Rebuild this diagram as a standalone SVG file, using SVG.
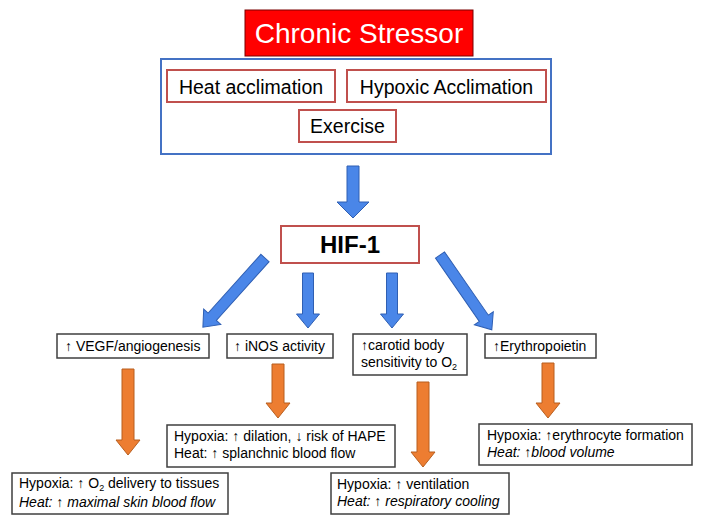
<svg xmlns="http://www.w3.org/2000/svg" width="703" height="525" viewBox="0 0 703 525">
<style>
  .bg{fill:#ffffff}
  .title{fill:#ff0000;stroke:#7a0000;stroke-width:1}
  .group{fill:#ffffff;stroke:#4472c4;stroke-width:2}
  .src{fill:#ffffff;stroke:#c0504d;stroke-width:2}
  .box{fill:#ffffff;stroke:#3f3f3f;stroke-width:1.5}
  .barrow{fill:#4a86e8;stroke:#2f5fb3;stroke-width:1}
  .oarrow{fill:#ed7d31;stroke:#b85f1f;stroke-width:1}
  text{font-family:"Liberation Sans",Arial,sans-serif;fill:#000000}
  .t-title{font-size:28px;fill:#ffffff;text-anchor:middle}
  .t-src{font-size:19.5px;text-anchor:middle}
  .t-hif{font-size:24px;font-weight:bold;text-anchor:middle}
  .t-mid{font-size:14px}
  .t-out{font-size:14px}
  .it{font-style:italic}
  .sub{font-size:9px}
</style>
<rect class="bg" x="0" y="0" width="703" height="525"/>

<g id="chronic-stressor">
  <rect class="title" x="245" y="10" width="228" height="46"/>
  <text class="t-title" x="359" y="43">Chronic Stressor</text>
</g>

<g id="stressor-group">
  <rect class="group" x="161" y="59" width="390" height="95"/>
</g>
<g id="heat-acclimation">
  <rect class="src" x="167" y="70" width="168" height="32"/>
  <text class="t-src" x="251" y="94">Heat acclimation</text>
</g>
<g id="hypoxic-acclimation">
  <rect class="src" x="347" y="70" width="199" height="32"/>
  <text class="t-src" x="446.5" y="94">Hypoxic Acclimation</text>
</g>
<g id="exercise">
  <rect class="src" x="299" y="110" width="97" height="32"/>
  <text class="t-src" x="347.5" y="133">Exercise</text>
</g>

<g id="hif1">
  <rect class="src" x="281" y="226" width="138" height="37"/>
  <text class="t-hif" x="350" y="253">HIF-1</text>
</g>

<g id="vegf">
  <rect class="box" x="57" y="334" width="152" height="24"/>
  <text class="t-mid" x="65" y="351">↑ VEGF/angiogenesis</text>
</g>
<g id="inos">
  <rect class="box" x="227" y="334" width="106" height="24"/>
  <text class="t-mid" x="234" y="351">↑ iNOS activity</text>
</g>
<g id="carotid">
  <rect class="box" x="353" y="334" width="114" height="41"/>
  <text class="t-mid" x="361" y="350">↑carotid body</text>
  <text class="t-mid" x="361" y="367">sensitivity to O<tspan class="sub" dy="3">2</tspan></text>
</g>
<g id="erythropoietin">
  <rect class="box" x="485" y="334" width="111" height="24"/>
  <text class="t-mid" x="493" y="351">↑Erythropoietin</text>
</g>

<g id="out-vegf">
  <rect class="box" x="12" y="473" width="216" height="41"/>
  <text class="t-out" x="19" y="488">Hypoxia: ↑ O<tspan class="sub" dy="3">2</tspan><tspan dy="-3"> delivery to tissues</tspan></text>
  <text class="t-out it" x="19" y="507">Heat: ↑ maximal skin blood flow</text>
</g>
<g id="out-inos">
  <rect class="box" x="167" y="425" width="228" height="42"/>
  <text class="t-out" x="174" y="441">Hypoxia: ↑ dilation, ↓ risk of HAPE</text>
  <text class="t-out" x="174" y="458">Heat: ↑ splanchnic blood flow</text>
</g>
<g id="out-carotid">
  <rect class="box" x="331" y="473" width="178" height="41"/>
  <text class="t-out" x="337" y="489">Hypoxia: ↑ ventilation</text>
  <text class="t-out it" x="337" y="506">Heat: ↑ respiratory cooling</text>
</g>
<g id="out-epo">
  <rect class="box" x="479" y="424" width="213" height="41"/>
  <text class="t-out" x="487" y="440">Hypoxia: ↑erythrocyte formation</text>
  <text class="t-out it" x="487" y="457">Heat: ↑blood volume</text>
</g>

<g id="connectors">
  <polygon class="barrow" points="347,166 359,166 359,202 369,202 353,218 337,202 347,202"/>
  <polygon class="barrow" transform="translate(265,258) rotate(41.9)" points="-5.5,0 5.5,0 5.5,79 11.5,79 0,93 -11.5,79 -5.5,79"/>
  <polygon class="barrow" points="302.5,273 313.5,273 313.5,314 319.5,314 308,328 296.5,314 302.5,314"/>
  <polygon class="barrow" points="386.5,273 397.5,273 397.5,314 403.5,314 392,328 380.5,314 386.5,314"/>
  <polygon class="barrow" transform="translate(440,255) rotate(-34.7)" points="-5.5,0 5.5,0 5.5,77 11.5,77 0,91 -11.5,77 -5.5,77"/>
  <polygon class="oarrow" points="122,369 134,369 134,440 140,440 128,455 116,440 122,440"/>
  <polygon class="oarrow" points="272,364 284,364 284,403 290,403 278,418 266,403 272,403"/>
  <polygon class="oarrow" points="417,382 429,382 429,452 435,452 423,467 411,452 417,452"/>
  <polygon class="oarrow" points="542,363 554,363 554,403 560,403 548,418 536,403 542,403"/>
</g>
</svg>
